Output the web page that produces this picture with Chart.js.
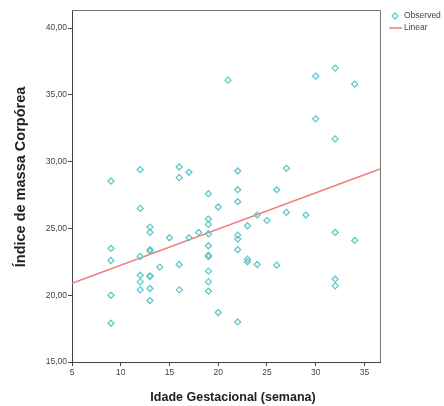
<!DOCTYPE html>
<html>
<head>
<meta charset="utf-8">
<script src="https://cdn.jsdelivr.net/npm/chart.js@4.4.1/dist/chart.umd.min.js"></script>
<style>
html,body{margin:0;padding:0;background:#fff;}
canvas{display:block;}
</style>
</head>
<body>
<canvas id="c" width="444" height="406"></canvas>
<script>
// Observed data: gestational age (weeks) and BMI
const gestAge = [
  9, 9, 9, 9, 9,
  12, 12, 12, 12, 12, 12,
  13, 13, 13, 13, 13, 13, 13, 13,
  14, 15,
  16, 16, 16, 16,
  17, 17, 18,
  19, 19, 19, 19, 19, 19, 19, 19, 19, 19,
  20, 20, 21,
  22, 22, 22, 22, 22, 22, 22,
  23, 23, 23, 24, 24, 25, 26, 26, 27, 27, 29,
  30, 30,
  32, 32, 32, 32, 32,
  34, 34
];
const bmi = [
  28.55, 23.5, 22.6, 20.0, 17.9,
  29.4, 26.5, 22.9, 21.5, 21.0, 20.4,
  25.1, 24.7, 23.4, 23.3, 21.45, 21.4, 20.5, 19.6,
  22.1, 24.3,
  29.6, 28.8, 22.3, 20.4,
  29.2, 24.3, 24.7,
  27.6, 25.7, 25.3, 24.6, 23.7, 23.0, 22.9, 21.8, 21.0, 20.3,
  26.6, 18.7, 36.1,
  29.3, 27.9, 27.0, 24.5, 24.2, 23.4, 18.0,
  25.2, 22.7, 22.5, 26.0, 22.3, 25.6, 27.9, 22.25, 29.5, 26.2, 26.0,
  36.4, 33.2,
  37.0, 31.7, 24.7, 21.2, 20.7,
  35.8, 24.1
];
// Linear fit line endpoints
const fitX = [5, 36.6];
const fitY = [20.9, 29.46];

const xTicks = [5, 10, 15, 20, 25, 30, 35];
const xTickLabels = ['5', '10', '15', '20', '25', '30', '35'];
const yTicks = [15, 20, 25, 30, 35, 40];
const yTickLabels = ['15,00', '20,00', '25,00', '30,00', '35,00', '40,00'];

const xTitle = 'Idade Gestacional (semana)';
const yTitle = 'Índice de massa Corpórea';
const legendLabels = ['Observed', 'Linear'];

const pointColor = 'rgb(96,200,202)';
const lineColor = 'rgb(240,122,122)';
const axisColor = '#444';
const FONT = '"Liberation Sans", Arial, sans-serif';

const observed = gestAge.map((x, i) => ({x: x, y: bmi[i]}));
const fit = fitX.map((x, i) => ({x: x, y: fitY[i]}));

const framePlugin = {
  id: 'frame',
  afterDraw(chart) {
    const {ctx, chartArea: a} = chart;
    ctx.save();
    ctx.strokeStyle = '#777';
    ctx.lineWidth = 1;
    ctx.beginPath();
    ctx.moveTo(a.left, a.top + 0.5);
    ctx.lineTo(a.right + 0.5, a.top + 0.5);
    ctx.lineTo(a.right + 0.5, a.bottom);
    ctx.stroke();
    // axis titles
    ctx.fillStyle = '#222';
    ctx.textAlign = 'center';
    ctx.textBaseline = 'middle';
    ctx.font = 'bold 12.5px ' + FONT;
    ctx.fillText(xTitle, 233, 398);
    ctx.save();
    ctx.translate(21, 177);
    ctx.rotate(-Math.PI / 2);
    ctx.font = 'bold 14.5px ' + FONT;
    ctx.fillText(yTitle, 0, 0);
    ctx.restore();
    // legend
    ctx.font = '8.5px ' + FONT;
    ctx.fillStyle = '#444';
    ctx.textBaseline = 'middle';
    ctx.textAlign = 'left';
    const mx = 395, my = 16, r = 3;
    ctx.strokeStyle = pointColor;
    ctx.lineWidth = 1.3;
    ctx.beginPath();
    ctx.moveTo(mx, my - r); ctx.lineTo(mx + r, my); ctx.lineTo(mx, my + r); ctx.lineTo(mx - r, my); ctx.closePath();
    ctx.stroke();
    ctx.fillText(legendLabels[0], 404, my);
    ctx.strokeStyle = lineColor;
    ctx.lineWidth = 1.5;
    ctx.beginPath();
    ctx.moveTo(389, 28); ctx.lineTo(402, 28);
    ctx.stroke();
    ctx.fillText(legendLabels[1], 404, 28);
    ctx.restore();
  }
};

new Chart(document.getElementById('c'), {
  data: {
    datasets: [
      {
        type: 'scatter',
        label: legendLabels[0],
        data: observed,
        pointStyle: 'rectRot',
        pointRadius: 3,
        pointBorderWidth: 1.3,
        pointBorderColor: pointColor,
        pointBackgroundColor: 'rgba(255,255,255,0)',
        order: 1
      },
      {
        type: 'line',
        label: legendLabels[1],
        data: fit,
        borderColor: lineColor,
        borderWidth: 1.5,
        pointRadius: 0,
        fill: false,
        order: 2
      }
    ]
  },
  options: {
    responsive: false,
    animation: false,
    devicePixelRatio: 1,
    layout: {padding: {top: 10, right: 64, left: 0, bottom: 0}},
    plugins: {legend: {display: false}, tooltip: {enabled: false}},
    scales: {
      x: {
        type: 'linear',
        min: 5,
        max: 36.6,
        afterBuildTicks: s => { s.ticks = xTicks.map(v => ({value: v})); },
        afterFit: s => { s.height = 44; },
        grid: {display: true, drawOnChartArea: false, drawTicks: true, tickLength: 4, color: axisColor},
        border: {display: true, color: axisColor, width: 1},
        ticks: {
          padding: 2,
          color: '#444',
          font: {family: FONT, size: 8.5},
          callback: (v, i) => xTickLabels[i]
        },
        title: {display: false}
      },
      y: {
        type: 'linear',
        min: 15,
        max: 41.35,
        afterBuildTicks: s => { s.ticks = yTicks.map(v => ({value: v})); },
        afterFit: s => { s.width = 72; },
        grid: {display: true, drawOnChartArea: false, drawTicks: true, tickLength: 4, color: axisColor},
        border: {display: true, color: axisColor, width: 1},
        ticks: {
          padding: 1,
          color: '#444',
          font: {family: FONT, size: 8.5},
          callback: (v, i) => yTickLabels[i]
        },
        title: {display: false}
      }
    }
  },
  plugins: [framePlugin]
});
</script>
</body>
</html>
